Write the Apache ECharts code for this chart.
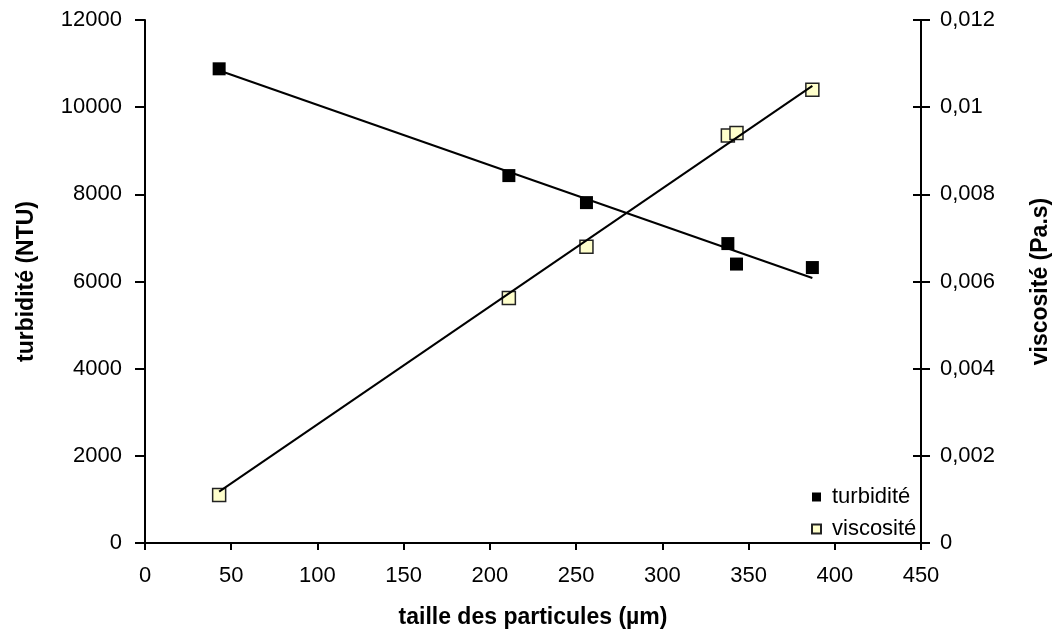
<!DOCTYPE html>
<html>
<head>
<meta charset="utf-8">
<script src="https://cdn.jsdelivr.net/npm/echarts@6/dist/echarts.min.js"></script>
<style>
html,body{margin:0;padding:0;background:#fff;}
#chart{width:1060px;height:634px;}
</style>
</head>
<body>
<div id="chart"></div>
<script>
// Data
const particleSize = [43, 211, 256, 338, 343, 387];
const turbidity = [10880, 8430, 7810, 6870, 6400, 6320];
const viscosity = [0.00110, 0.00562, 0.00680, 0.00935, 0.00941, 0.01040];
// Trend line endpoints
const trendX = [43, 387];
const turbidityTrend = [10840, 6080];
const viscosityTrend = [0.00118, 0.01049];
// Axis titles
const xTitle = 'taille des particules (µm)';
const yLeftTitle = 'turbidité (NTU)';
const yRightTitle = 'viscosité (Pa.s)';
const seriesNames = ['turbidité', 'viscosité'];

const FONT = '"Liberation Sans", Arial, Helvetica, sans-serif';
const TICK_FS = 22;
const TITLE_FS = 23;
const chart = echarts.init(document.getElementById('chart'), null, {renderer: 'canvas'});

function pairs(xs, ys) { return xs.map((x, i) => [x, ys[i]]); }
function fmtComma(v) {
  if (v === 0) return '0';
  return String(+v.toFixed(4)).replace('.', ',');
}
function fmtPlain(v) { return String(v); }

const axisLine = {show: true, lineStyle: {color: '#000', width: 2}};

chart.setOption({
  animation: false,
  backgroundColor: '#fff',
  textStyle: {fontFamily: FONT},
  grid: {left: 145, right: 132, top: 20, bottom: 89, containLabel: false},
  legend: {
    orient: 'vertical',
    left: 806,
    top: 481,
    itemWidth: 9,
    itemHeight: 9,
    itemGap: 10,
    icon: 'rect',
    textStyle: {fontFamily: FONT, fontSize: TICK_FS, color: '#000', padding: [0, 0, 0, 6]},
    data: seriesNames
  },
  xAxis: {
    type: 'value',
    min: 0, max: 450, interval: 50,
    name: xTitle,
    nameLocation: 'middle',
    nameGap: 63,
    nameTextStyle: {fontFamily: FONT, fontSize: TITLE_FS, fontWeight: 'bold', color: '#000'},
    axisLine: axisLine,
    axisTick: {show: true, inside: false, length: 7, lineStyle: {color: '#000', width: 2}},
    axisLabel: {fontFamily: FONT, fontSize: TICK_FS, color: '#000', margin: 22, formatter: fmtPlain},
    splitLine: {show: false}
  },
  yAxis: [
    {
      type: 'value',
      position: 'left',
      min: 0, max: 12000, interval: 2000,
      name: yLeftTitle,
      nameLocation: 'middle',
      nameRotate: 90,
      nameGap: 107,
      nameTextStyle: {fontFamily: FONT, fontSize: TITLE_FS, fontWeight: 'bold', color: '#000'},
      axisLine: axisLine,
      axisTick: {show: true, inside: false, length: 10, lineStyle: {color: '#000', width: 2}},
      axisLabel: {fontFamily: FONT, fontSize: TICK_FS, color: '#000', margin: 23, formatter: fmtPlain},
      splitLine: {show: false}
    },
    {
      type: 'value',
      position: 'right',
      min: 0, max: 0.012, interval: 0.002,
      name: yRightTitle,
      nameLocation: 'middle',
      nameRotate: 90,
      nameGap: 108,
      nameTextStyle: {fontFamily: FONT, fontSize: TITLE_FS, fontWeight: 'bold', color: '#000'},
      axisLine: axisLine,
      axisTick: {show: true, inside: false, length: 9, lineStyle: {color: '#000', width: 2}},
      axisLabel: {fontFamily: FONT, fontSize: TICK_FS, color: '#000', margin: 19, formatter: fmtComma},
      splitLine: {show: false}
    },
    {
      // inner half of the right axis ticks (ticks cross the axis)
      type: 'value',
      position: 'right',
      min: 0, max: 0.012, interval: 0.002,
      axisLine: {show: false},
      axisTick: {show: true, inside: true, length: 8, lineStyle: {color: '#000', width: 2}},
      axisLabel: {show: false},
      splitLine: {show: false}
    }
  ],
  series: [
    {
      name: seriesNames[0],
      type: 'scatter',
      yAxisIndex: 0,
      symbol: 'rect',
      symbolSize: 13,
      itemStyle: {color: '#000', borderColor: '#000', borderWidth: 0, opacity: 1},
      data: pairs(particleSize, turbidity),
      z: 2
    },
    {
      name: seriesNames[1],
      type: 'scatter',
      yAxisIndex: 1,
      symbol: 'rect',
      symbolSize: 13,
      itemStyle: {color: '#FFFFCC', borderColor: '#222', borderWidth: 1.5, opacity: 1},
      data: pairs(particleSize, viscosity),
      z: 2
    },
    {
      name: 'trend turbidité',
      type: 'line',
      yAxisIndex: 0,
      showSymbol: false,
      symbol: 'none',
      lineStyle: {color: '#000', width: 2},
      data: pairs(trendX, turbidityTrend),
      z: 3,
      silent: true
    },
    {
      name: 'trend viscosité',
      type: 'line',
      yAxisIndex: 1,
      showSymbol: false,
      symbol: 'none',
      lineStyle: {color: '#000', width: 2},
      data: pairs(trendX, viscosityTrend),
      z: 3,
      silent: true
    }
  ]
});
</script>
</body>
</html>
